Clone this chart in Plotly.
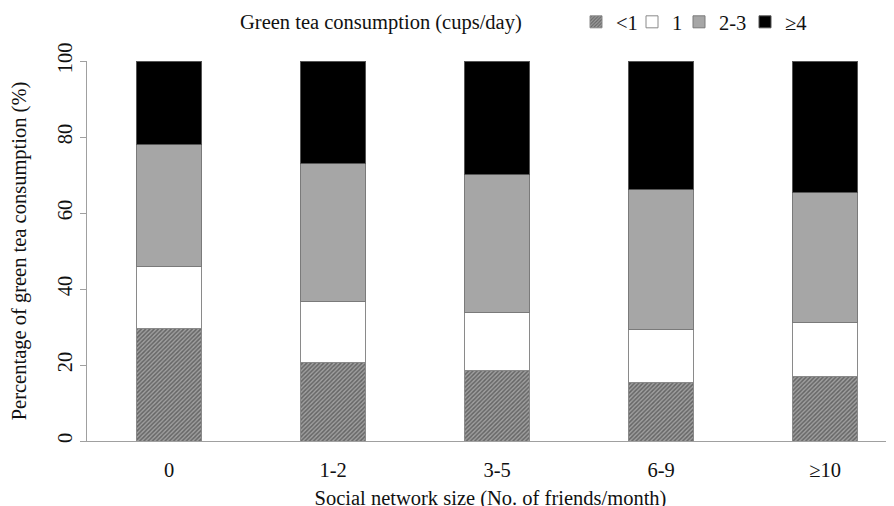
import plotly.graph_objects as go

categories = ["0", "1-2", "3-5", "6-9", "≥10"]
series_names = ["<1", "1", "2-3", "≥4"]
lt1 = [29.5, 20.6, 18.5, 15.4, 16.9]
one = [16.5, 16.2, 15.4, 14.0, 14.4]
two_three = [32.0, 36.1, 36.3, 36.8, 34.0]
ge4 = [22.0, 27.1, 29.8, 33.8, 34.7]
y_ticks = [0, 20, 40, 60, 80, 100]

# The page body adds an 8px offset, so the figure is laid out 8px up/left.
W, H = 886, 502
FONT = "Liberation Serif"
FS = 20.5
fig = go.Figure()
line = dict(color="#8a8a8a", width=1)
fig.add_bar(x=categories, y=lt1, name=series_names[0], legendwidth=11,
            marker=dict(color="#ffffff", line=line,
                        pattern=dict(shape="/", fgcolor="#2a2a2a", bgcolor="#a0a0a0",
                                     size=3, solidity=0.5)))
fig.add_bar(x=categories, y=one, name=series_names[1], legendwidth=2,
            marker=dict(color="#ffffff", line=line))
fig.add_bar(x=categories, y=two_three, name=series_names[2], legendwidth=21,
            marker=dict(color="#a6a6a6", line=dict(color="#7a7a7a", width=1)))
fig.add_bar(x=categories, y=ge4, name=series_names[3],
            marker=dict(color="#000000", line=dict(color="#555555", width=1)))

leg_y = 1 - 14 / H
fig.update_layout(
    barmode="stack", bargap=0.6,
    width=W, height=H,
    margin=dict(l=79, r=0, t=53, b=H - 433),
    plot_bgcolor="white", paper_bgcolor="white",
    font=dict(family=FONT, size=FS, color="#111111"),
    title=dict(text="Green tea consumption (cups/day)", xref="container", x=232 / W,
               xanchor="left", yref="container", y=leg_y, yanchor="middle",
               font=dict(family=FONT, size=FS, color="#111111")),
    legend=dict(orientation="h", xref="container", x=568 / W, xanchor="left",
                yref="container", y=leg_y, yanchor="middle",
                font=dict(family=FONT, size=FS, color="#111111"),
                bgcolor="rgba(0,0,0,0)", itemwidth=30, traceorder="normal"),
    showlegend=True,
)
fig.update_xaxes(range=[-0.5, 4.42], showline=True, linecolor="#a0a0a0", linewidth=1,
                 ticks="", showgrid=False, ticklabelstandoff=10, automargin=False,
                 title=dict(text="Social network size (No. of friends/month)",
                            standoff=18, font=dict(family=FONT, size=FS)))
fig.update_yaxes(range=[0, 100], tickvals=y_ticks, showline=True, linecolor="#a0a0a0",
                 linewidth=1, ticks="outside", ticklen=6, tickcolor="#a0a0a0",
                 showgrid=False, zeroline=False, tickangle=-90, ticklabelstandoff=0,
                 automargin=False,
                 title=dict(text="Percentage of green tea consumption (%)", standoff=22,
                            font=dict(family=FONT, size=FS)))
fig.write_html("out.html")
